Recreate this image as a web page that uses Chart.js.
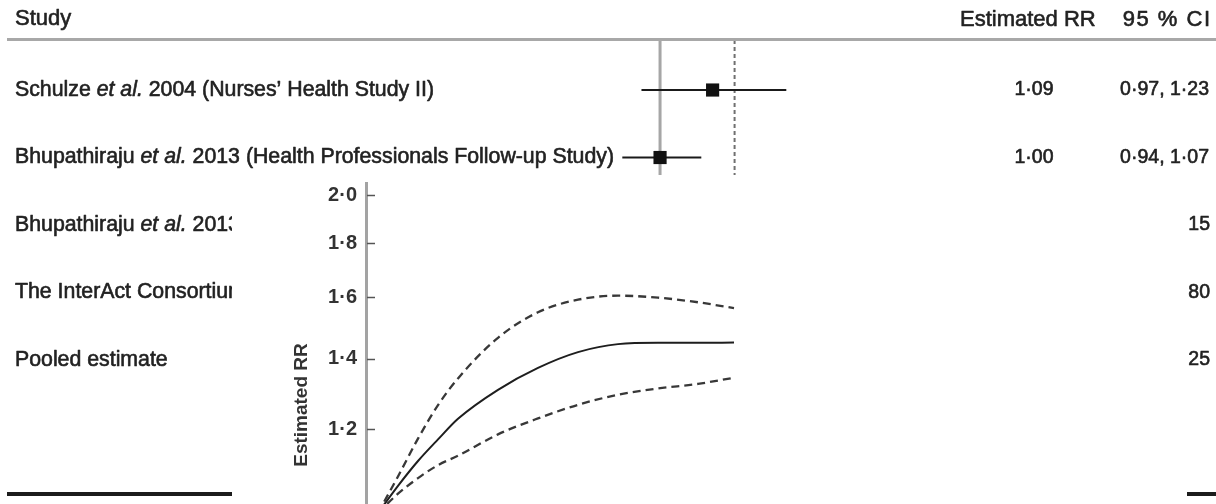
<!DOCTYPE html>
<html>
<head>
<meta charset="utf-8">
<script src="https://cdn.jsdelivr.net/npm/chart.js@4.4.1/dist/chart.umd.min.js"></script>
<style>
  html, body { margin: 0; padding: 0; background: #fff; overflow: hidden; width: 1216px; height: 504px; }
  #forest { position: absolute; left: 0; top: 0; }
  #inset { position: absolute; left: 232px; top: 175px; width: 955px; height: 460px; background: #fff; }
</style>
</head>
<body>
<canvas id="forest" width="1216" height="504"></canvas>
<div id="inset"><canvas id="curve" width="955" height="460"></canvas></div>
<script>
// ---- Forest plot: studies and their estimates ----
const headerLabels = ['Study', 'Estimated RR', '95 % CI'];
const studyLabels = [
  'Schulze et al. 2004 (Nurses\u2019 Health Study II)',
  'Bhupathiraju et al. 2013 (Health Professionals Follow-up Study)',
  'Bhupathiraju et al. 2013 (Nurses\u2019 Health Study)',
  'The InterAct Consortium 2013',
  'Pooled estimate'
];
const studyRR = [1.09, 1.00];
const studyLower = [0.97, 0.94];
const studyUpper = [1.23, 1.07];
// upper-limit endings printed for the remaining rows
const ciTailLabels = [null, null, '\u00b715', '\u00b780', '\u00b725'];
const nullRR = 1.00;
const pooledRR = 1.13;

// ---- Dose-response curve ----
const doseX      = [0, 0.25, 0.5, 0.75, 1, 1.5, 2, 2.5, 3, 3.5, 4, 4.45];
const rrCentral  = [1.00, 1.061, 1.120, 1.174, 1.228, 1.308, 1.372, 1.420, 1.445, 1.449, 1.449, 1.450];
const rrUpperCI  = [1.00, 1.083, 1.176, 1.265, 1.341, 1.465, 1.549, 1.592, 1.606, 1.599, 1.583, 1.563];
const rrLowerCI  = [1.00, 1.043, 1.079, 1.110, 1.133, 1.187, 1.229, 1.266, 1.294, 1.312, 1.325, 1.343];
const rrTicks    = [1.0, 1.2, 1.4, 1.6, 1.8, 2.0];

const FAMILY = '"Liberation Sans", Arial, sans-serif';
const INK = '#222';
const fmt = (v, d) => v.toFixed(d).replace('.', '\u00b7');

// ---------------- forest plot ----------------
const yTop = -0.741, yBottom = 5.97;
const forestSets = [
  { type: 'line', data: [{ x: nullRR, y: yTop }, { x: nullRR, y: yBottom }],
    borderColor: '#a6a6a6', borderWidth: 3, pointRadius: 0, order: 4 },
  { type: 'line', data: [{ x: pooledRR, y: yTop }, { x: pooledRR, y: yBottom }],
    borderColor: '#707070', borderWidth: 2, borderDash: [4, 3], pointRadius: 0, order: 3 }
];
studyRR.forEach((rr, i) => {
  forestSets.push({ type: 'line', data: [{ x: studyLower[i], y: i }, { x: studyUpper[i], y: i }],
    borderColor: '#1a1a1a', borderWidth: 2.2, pointRadius: 0, order: 2 });
});
forestSets.push({ type: 'scatter', data: studyRR.map((v, i) => ({ x: v, y: i })),
  pointStyle: 'rect', pointRadius: 9.3, pointHoverRadius: 9.3,
  backgroundColor: '#111', borderColor: '#111', borderWidth: 0, order: 1 });

// text with a hairline outline so it reads with the weight of the printed figure
function inkText(ctx, text, x, y) {
  ctx.fillText(text, x, y);
  ctx.strokeText(text, x, y);
}

function drawStudyLabel(ctx, text, x, y, size) {
  let cx = x;
  text.split(/(et al\.)/).forEach(p => {
    if (!p) return;
    ctx.font = (p === 'et al.' ? 'italic ' : '') + size + 'px ' + FAMILY;
    inkText(ctx, p, cx, y);
    cx += ctx.measureText(p).width;
  });
}

const forestText = {
  id: 'forestText',
  afterDraw(chart) {
    const ctx = chart.ctx;
    const ys = chart.scales.y;
    ctx.save();
    ctx.fillStyle = INK;
    ctx.strokeStyle = INK;
    ctx.lineWidth = 0.6;
    ctx.lineJoin = 'round';
    ctx.textBaseline = 'middle';
    // header
    ctx.font = '22px ' + FAMILY;
    ctx.textAlign = 'left';
    inkText(ctx, headerLabels[0], 15, 19);
    inkText(ctx, headerLabels[1], 960, 20);
    ctx.textAlign = 'right';
    ctx.letterSpacing = '1.5px';
    inkText(ctx, headerLabels[2], 1211.5, 20);
    ctx.letterSpacing = '0px';
    // rows
    ctx.textAlign = 'left';
    studyLabels.forEach((label, i) => drawStudyLabel(ctx, label, 15, ys.getPixelForValue(i), 21.3));
    ctx.font = '19.5px ' + FAMILY;
    studyRR.forEach((rr, i) => {
      const y = ys.getPixelForValue(i);
      ctx.textAlign = 'center';
      inkText(ctx, fmt(rr, 2), 1034, y);
      ctx.textAlign = 'right';
      inkText(ctx, fmt(studyLower[i], 2) + ', ' + fmt(studyUpper[i], 2), 1209, y);
    });
    ciTailLabels.forEach((t, i) => {
      if (!t) return;
      ctx.textAlign = 'right';
      inkText(ctx, t, 1210, ys.getPixelForValue(i));
    });
    // header rule
    ctx.strokeStyle = '#a8a8a8';
    ctx.lineWidth = 3;
    ctx.beginPath(); ctx.moveTo(7, 39.5); ctx.lineTo(1216, 39.5); ctx.stroke();
    // bottom rule
    ctx.strokeStyle = '#1c1c1c';
    ctx.lineWidth = 4;
    ctx.beginPath(); ctx.moveTo(7, 494); ctx.lineTo(1216, 494); ctx.stroke();
    ctx.restore();
  }
};

new Chart(document.getElementById('forest'), {
  data: { datasets: forestSets },
  options: {
    responsive: false,
    animation: false,
    events: [],
    layout: { padding: { left: 560, right: 356, top: 40, bottom: 11 } },
    scales: {
      x: { type: 'logarithmic', min: 0.8487, max: 1.388, display: false, bounds: 'data' },
      y: { type: 'linear', min: yTop, max: yBottom, reverse: true, display: false }
    },
    plugins: { legend: { display: false }, tooltip: { enabled: false } }
  },
  plugins: [forestText]
});

// ---------------- dose-response inset ----------------
const inwardTicks = {
  id: 'inwardTicks',
  afterDraw(chart) {
    const ctx = chart.ctx, s = chart.scales.y, left = chart.chartArea.left;
    ctx.save();
    ctx.strokeStyle = '#555';
    ctx.lineWidth = 1.5;
    s.ticks.forEach(t => {
      const y = Math.round(s.getPixelForValue(t.value)) + 0.5;
      ctx.beginPath(); ctx.moveTo(left + 1, y); ctx.lineTo(left + 9, y); ctx.stroke();
    });
    ctx.restore();
  }
};

const curvePoints = arr => doseX.map((x, i) => ({ x, y: arr[i] }));

new Chart(document.getElementById('curve'), {
  type: 'line',
  data: {
    datasets: [
      { data: curvePoints(rrUpperCI), borderColor: '#383838', borderWidth: 2.3, borderDash: [8, 5],
        pointRadius: 0, cubicInterpolationMode: 'monotone' },
      { data: curvePoints(rrCentral), borderColor: '#1e1e1e', borderWidth: 2,
        pointRadius: 0, cubicInterpolationMode: 'monotone' },
      { data: curvePoints(rrLowerCI), borderColor: '#383838', borderWidth: 2.3, borderDash: [8, 5],
        pointRadius: 0, cubicInterpolationMode: 'monotone' }
    ]
  },
  options: {
    responsive: false,
    animation: false,
    events: [],
    layout: { padding: { left: 34, right: 9, top: 8, bottom: 8 } },
    scales: {
      x: { type: 'linear', min: -0.15, max: 10, display: false },
      y: {
        type: 'logarithmic', min: 0.78, max: 2.053, bounds: 'data',
        afterBuildTicks: s => { s.ticks = rrTicks.map(v => ({ value: v })); },
        afterFit: s => { s.width = 100; s.paddingTop = 0; s.paddingBottom = 0; },
        grid: { display: true, drawOnChartArea: false, drawTicks: false },
        border: { display: true, color: '#a3a3a3', width: 3 },
        ticks: {
          autoSkip: false, padding: 9, color: '#333',
          font: { family: FAMILY, size: 20, weight: 'bold' },
          callback: v => fmt(v, 1)
        },
        title: {
          display: true, text: 'Estimated RR', color: '#333',
          font: { family: FAMILY, size: 19, weight: 'bold' },
          padding: { top: 24.6, bottom: 0 }
        }
      }
    },
    plugins: { legend: { display: false }, tooltip: { enabled: false } }
  },
  plugins: [inwardTicks]
});
</script>
</body>
</html>
